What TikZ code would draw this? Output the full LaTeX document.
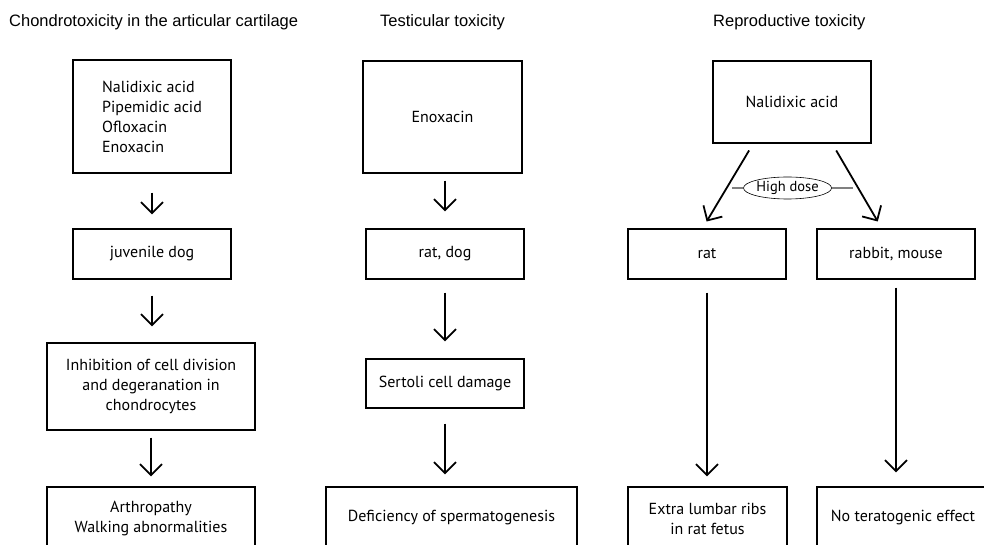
\documentclass[tikz,border=0pt]{standalone}
\usepackage{fontspec}
\usetikzlibrary{arrows.meta,shapes.geometric,calc}
\newfontfamily\titlefont{Liberation Sans}
\newfontfamily\boxfont{PT Sans}
\tikzset{
  box/.style={draw, line width=1.2pt, inner sep=0pt, align=center,
    font=\boxfont\fontsize{16}{20}\selectfont},
  heading/.style={anchor=west, inner sep=0pt, font=\titlefont\fontsize{16.5}{18}\selectfont},
  arr/.style={line width=1.8pt, -{Straight Barb[length=11pt,width=22pt,line width=1.8pt]}},
  bar/.style={line width=2.5pt, gray},
}
\begin{document}
\begin{tikzpicture}[x=1pt,y=-1pt]
  \useasboundingbox (0,0) rectangle (984,545);
  \clip (0,0) rectangle (984,545);

  % Headings
  \node[heading] (hchon) at (9,22) {Chondrotoxicity in the articular cartilage};
  \node[heading] (htest) at (380,22) {Testicular toxicity};
  \node[heading] (hrepr) at (713,22) {Reproductive toxicity};

  % Column 1: chondrotoxicity
  \node[box, minimum width=158, minimum height=113, align=left] (drugs) at (152,116.5)
    {Nalidixic acid\\Pipemidic acid\\Ofloxacin\\Enoxacin};
  \node[box, minimum width=158, minimum height=50] (juvdog) at (152,254) {juvenile dog};
  \node[box, minimum width=208, minimum height=87] (inhib) at (151,386.5)
    {Inhibition of cell division\\and degeranation in\\chondrocytes};
  \node[box, minimum width=208, minimum height=64] (arthro) at (151,519)
    {Arthropathy\\Walking abnormalities};

  % Column 2: testicular toxicity
  \node[box, minimum width=159, minimum height=112] (enox) at (442.5,117) {Enoxacin};
  \node[box, minimum width=158, minimum height=50] (ratdog) at (445,254) {rat, dog};
  \node[box, minimum width=158, minimum height=49] (sertoli) at (445,383.5) {Sertoli cell damage};
  \node[box, minimum width=251, minimum height=62] (defic) at (451.5,518)
    {Deficiency of spermatogenesis};

  % Column 3: reproductive toxicity
  \node[box, minimum width=158, minimum height=82] (nalid) at (792,102) {Nalidixic acid};
  \node[box, minimum width=158, minimum height=50] (rat) at (707,254) {rat};
  \node[box, minimum width=158, minimum height=50] (rabbit) at (896,254) {rabbit, mouse};
  \node[box, minimum width=159, minimum height=64] (ribs) at (707.5,519)
    {Extra lumbar ribs\\in rat fetus};
  \node[box, minimum width=172, minimum height=62] (noeff) at (903,518)
    {No teratogenic effect};
  \node[draw, ellipse, line width=0.6pt, inner sep=0pt, minimum width=75, minimum height=22,
    font=\boxfont\fontsize{14.5}{16}\selectfont] (hdose) at (787.5,188) {High dose};
  \coordinate (hdl) at (732,188);
  \coordinate (hdr) at (853,188);

  % Arrows in column 1
  \draw[arr, shorten <=19pt, shorten >=14pt] (drugs) -- (drugs |- juvdog.north);
  \draw[arr, shorten <=16pt, shorten >=16pt] (juvdog) -- (juvdog |- inhib.north);
  \draw[arr, shorten <=7pt, shorten >=10pt] (inhib) -- (inhib |- arthro.north);

  % Arrows in column 2
  \draw[arr, shorten <=7pt, shorten >=17pt] (ratdog |- enox.south) -- (ratdog);
  \draw[arr, shorten <=13pt, shorten >=17pt] (ratdog) -- (ratdog |- sertoli.north);
  \draw[arr, shorten <=15pt, shorten >=12pt] (sertoli) -- (sertoli |- defic.north);

  % Arrows in column 3
  \draw[arr, shorten <=8pt, shorten >=8pt] (nalid.227) -- (rat.100);
  \draw[arr, shorten <=8pt, shorten >=8pt] (nalid.314) -- (rabbit.119);
  \draw[bar] (hdl) -- (hdose.west);
  \draw[bar] (hdose.east) -- (hdr);
  \draw[arr, shorten <=13pt, shorten >=10pt] (rat) -- (rat |- ribs.north);
  \draw[arr, shorten <=8pt, shorten >=14pt] (rabbit) -- (rabbit |- noeff.north);

\end{tikzpicture}
\end{document}
